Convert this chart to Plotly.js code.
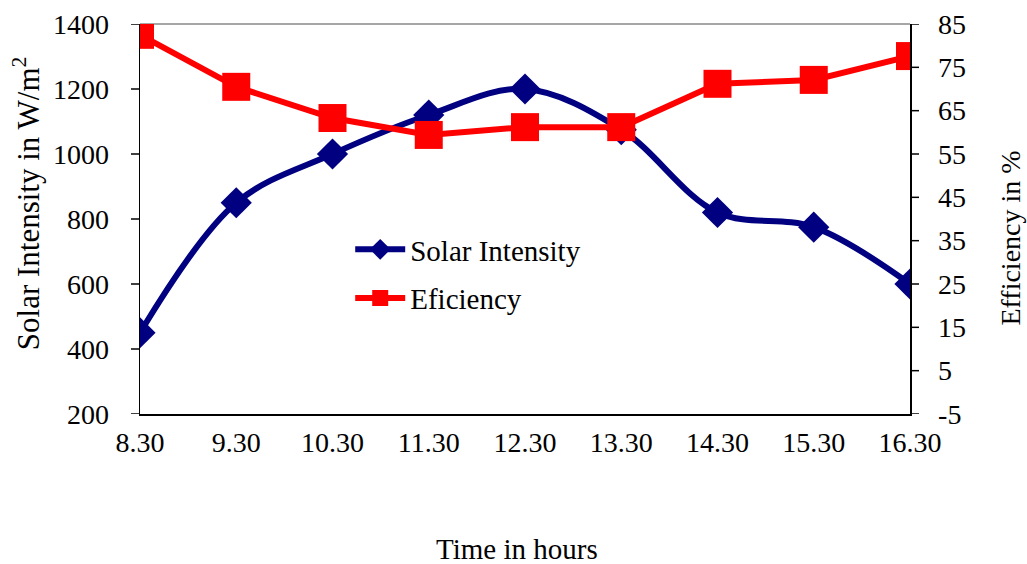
<!DOCTYPE html>
<html>
<head>
<meta charset="utf-8">
<script src="https://cdn.plot.ly/plotly-3.0.1.min.js"></script>
<style>html,body{margin:0;padding:0;background:#fff;}#chart{width:1027px;height:564px;}</style>
</head>
<body>
<div id="chart"></div>
<script>
const times = ["8.30","9.30","10.30","11.30","12.30","13.30","14.30","15.30","16.30"];
const solarIntensity = [450, 850, 1000, 1120, 1200, 1075, 820, 775, 600];
const efficiency = [82.5, 70.5, 63.3, 59.4, 61.2, 61.2, 71.2, 72.1, 77.6];
const solarTickVals = [200, 400, 600, 800, 1000, 1200, 1400];
const effTickVals = [-5, 5, 15, 25, 35, 45, 55, 65, 75, 85];
const effTickText = ["-5", "5", "15", "25", "35", "45", "55", "65", "75", "85"];

const FONT = "Liberation Serif";
const CLEAR = "rgba(0,0,0,0)";
const W = 1027, H = 564, M = {l: 140, r: 117, t: 24, b: 150};
const PW = W - M.l - M.r, PH = H - M.t - M.b;
const TL = 9; // visible tick length in px
const tickLine = {color: "#000", width: 1.5};

const traces = [
  {
    x: times, y: solarIntensity, name: "Solar Intensity", type: "scatter", mode: "lines+markers",
    legendgroup: "a",
    line: {color: "#000080", width: 6, shape: "spline", smoothing: 1},
    marker: {symbol: "diamond", size: 24, color: "#000080"},
    yaxis: "y"
  },
  {
    x: times, y: efficiency, name: "Eficiency", type: "scatter", mode: "lines+markers",
    legendgroup: "b",
    line: {color: "#FF0000", width: 6},
    marker: {symbol: "square", size: 28, color: "#FF0000"},
    yaxis: "y2"
  }
];

const tickFont = {family: FONT, size: 28, color: "#000"};

// visible tick marks (labels are pushed out with transparent, longer axis ticks)
const tickShapes = []
  .concat(solarTickVals.map(v => ({type: "line", xref: "paper", yref: "y",
    x0: -TL / PW, x1: 0, y0: v, y1: v, line: tickLine})))
  .concat(effTickVals.map(v => ({type: "line", xref: "paper", yref: "y2",
    x0: 1, x1: 1 + TL / PW, y0: v, y1: v, line: tickLine})))
  .concat(times.map(t => ({type: "line", xref: "x", yref: "paper",
    x0: t, x1: t, y0: 0, y1: -TL / PH, line: tickLine})));

const layout = {
  width: W, height: H,
  margin: M,
  paper_bgcolor: "#fff", plot_bgcolor: "#fff",
  font: {family: FONT, size: 27, color: "#000"},
  showlegend: true,
  legend: {x: 0.273, y: 0.359, xanchor: "left", yanchor: "middle", bgcolor: CLEAR,
           font: {family: FONT, size: 29, color: "#000"}, itemwidth: 50,
           traceorder: "grouped", tracegroupgap: 8},
  xaxis: {
    type: "category", range: [0, 8], showgrid: false, zeroline: false,
    showline: true, linecolor: "#000", linewidth: 1.5,
    ticks: "outside", ticklen: 3, tickcolor: CLEAR, tickwidth: 1.5,
    tickfont: tickFont
  },
  yaxis: {
    range: [200, 1400], tickmode: "array", tickvals: solarTickVals,
    showgrid: false, zeroline: false,
    showline: true, linecolor: "#000", linewidth: 1.5,
    ticks: "outside", ticklen: 24, tickcolor: CLEAR, tickwidth: 1.5,
    tickfont: tickFont
  },
  yaxis2: {
    overlaying: "y", side: "right", range: [-5, 85],
    tickmode: "array", tickvals: effTickVals, ticktext: effTickText,
    showgrid: false, zeroline: false,
    showline: true, linecolor: "#000", linewidth: 1.5,
    ticks: "outside", ticklen: 21, tickcolor: CLEAR, tickwidth: 1.5,
    tickfont: tickFont
  },
  shapes: [
    {type: "line", xref: "paper", yref: "paper", x0: 0, x1: 1, y0: 1, y1: 1,
     line: {color: "#888", width: 1.5}, layer: "below"}
  ].concat(tickShapes),
  annotations: [
    {text: "Time in hours", xref: "paper", yref: "paper", x: 0.49, y: -0.345,
     xanchor: "center", yanchor: "middle", showarrow: false, font: {family: FONT, size: 29, color: "#000"}},
    {text: "Solar Intensity in W/m<sup>2</sup>", xref: "paper", yref: "paper", x: -0.147, y: 0.54,
     xanchor: "center", yanchor: "middle", textangle: -90, showarrow: false, font: {family: FONT, size: 31, color: "#000"}},
    {text: "Efficiency in %", xref: "paper", yref: "paper", x: 1.13, y: 0.45,
     xanchor: "center", yanchor: "middle", textangle: -90, showarrow: false, font: {family: FONT, size: 28, color: "#000"}}
  ]
};

Plotly.newPlot("chart", traces, layout, {displayModeBar: false, staticPlot: true});
</script>
</body>
</html>
